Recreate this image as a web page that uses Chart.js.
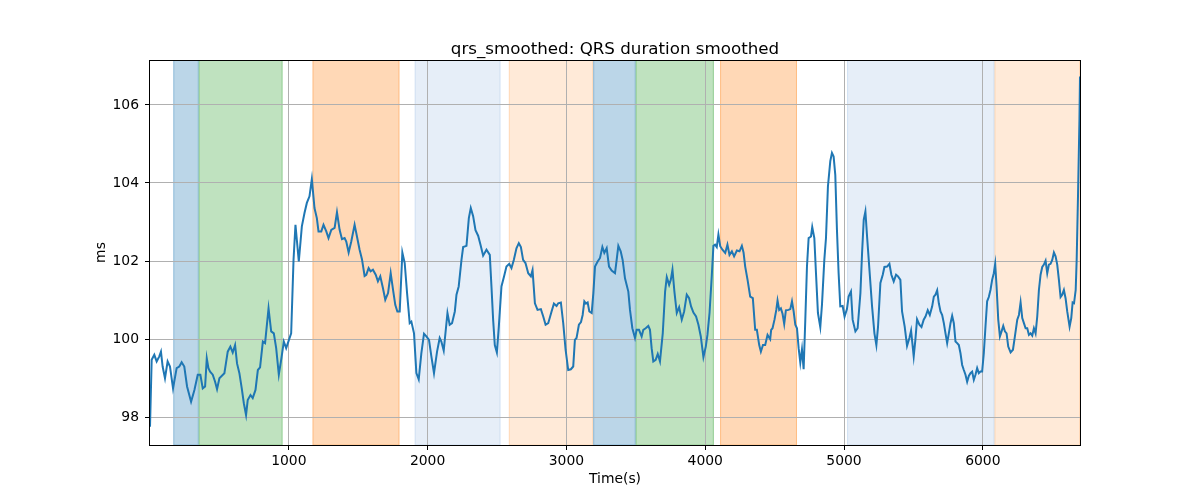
<!DOCTYPE html>
<html>
<head>
<meta charset="utf-8">
<script src="https://cdn.jsdelivr.net/npm/chart.js@4.4.1/dist/chart.umd.min.js"></script>
<style>
  html, body { margin: 0; padding: 0; background: #fff; }
  #wrap { width: 1200px; height: 500px; }
</style>
</head>
<body>
<div id="wrap"><canvas id="chart" width="1200" height="500"></canvas></div>
<script>
// time (s) and smoothed QRS duration (ms)
const times = [
  0, 12, 31, 48, 67, 79, 91, 108, 127, 144, 166, 192, 211, 228, 247, 267, 296, 320, 344, 363,
  380, 397, 409, 421, 433, 452, 469, 483, 500, 536, 560, 579, 596, 613, 627, 644, 661, 676, 692, 704,
  724, 740, 760, 777, 793, 813, 829, 854, 873, 892, 909, 928, 945, 964, 981, 1017, 1034, 1048, 1072, 1094,
  1113, 1130, 1149, 1166, 1185, 1202, 1214, 1234, 1250, 1270, 1286, 1306, 1330, 1347, 1366, 1383, 1402, 1414, 1431, 1450,
  1474, 1491, 1510, 1527, 1546, 1558, 1575, 1589, 1606, 1626, 1642, 1659, 1678, 1695, 1715, 1734, 1751, 1767, 1782, 1799,
  1818, 1835, 1852, 1871, 1883, 1902, 1919, 1936, 1955, 1974, 1991, 2010, 2027, 2046, 2068, 2087, 2099, 2116, 2143, 2159,
  2176, 2196, 2208, 2224, 2244, 2256, 2280, 2297, 2311, 2328, 2345, 2364, 2381, 2400, 2424, 2448, 2460, 2472, 2484, 2499,
  2513, 2532, 2551, 2568, 2588, 2604, 2621, 2640, 2657, 2672, 2688, 2705, 2725, 2744, 2756, 2773, 2792, 2816, 2833, 2850,
  2869, 2893, 2910, 2929, 2941, 2960, 2977, 2994, 3013, 3032, 3049, 3061, 3073, 3090, 3105, 3117, 3129, 3141, 3153, 3165,
  3182, 3194, 3206, 3225, 3242, 3259, 3273, 3290, 3307, 3326, 3350, 3362, 3374, 3391, 3405, 3422, 3446, 3458, 3475, 3494,
  3506, 3523, 3542, 3554, 3571, 3590, 3602, 3614, 3626, 3643, 3658, 3674, 3694, 3711, 3723, 3740, 3752, 3764, 3778, 3795,
  3812, 3831, 3848, 3867, 3884, 3898, 3915, 3934, 3951, 3968, 3987, 4004, 4016, 4031, 4047, 4059, 4071, 4083, 4095, 4108,
  4124, 4144, 4160, 4175, 4192, 4208, 4228, 4247, 4264, 4276, 4288, 4305, 4324, 4343, 4360, 4372, 4389, 4401, 4416, 4432,
  4449, 4468, 4475, 4485, 4499, 4512, 4521, 4533, 4545, 4557, 4569, 4581, 4600, 4613, 4625, 4637, 4649, 4661, 4673, 4685,
  4697, 4709, 4721, 4733, 4745, 4762, 4771, 4786, 4798, 4812, 4829, 4841, 4858, 4870, 4884, 4901, 4913, 4925, 4937, 4949,
  4961, 4973, 4990, 5004, 5021, 5033, 5050, 5062, 5082, 5098, 5118, 5130, 5142, 5154, 5166, 5183, 5202, 5219, 5233, 5245,
  5262, 5279, 5291, 5310, 5327, 5341, 5358, 5375, 5389, 5406, 5418, 5437, 5454, 5471, 5483, 5502, 5514, 5526, 5543, 5558,
  5574, 5587, 5603, 5618, 5635, 5647, 5659, 5671, 5683, 5695, 5707, 5719, 5731, 5743, 5755, 5767, 5779, 5791, 5803, 5815,
  5827, 5839, 5851, 5863, 5875, 5887, 5899, 5911, 5923, 5935, 5947, 5959, 5971, 5983, 5995, 6007, 6019, 6031, 6043, 6055,
  6067, 6079, 6089, 6099, 6111, 6123, 6135, 6147, 6159, 6171, 6183, 6200, 6217, 6231, 6248, 6260, 6272, 6284, 6296, 6308,
  6320, 6332, 6344, 6356, 6368, 6380, 6392, 6404, 6416, 6428, 6440, 6452, 6464, 6476, 6488, 6500, 6512, 6524, 6536, 6548,
  6560, 6572, 6584, 6596, 6608, 6625, 6637, 6647, 6657, 6669, 6676, 6686, 6696, 6700
];
const qrs = [
  97.76, 99.47, 99.60, 99.43, 99.56, 99.68, 99.30, 99.00, 99.43, 99.30, 98.74, 99.26, 99.30, 99.41, 99.30, 98.79, 98.40, 98.70, 99.09, 99.09,
  98.74, 98.79, 99.51, 99.26, 99.17, 99.09, 98.91, 98.72, 99.00, 99.13, 99.68, 99.81, 99.66, 99.85, 99.38, 99.13, 98.74, 98.36, 98.06, 98.44,
  98.57, 98.49, 98.70, 99.21, 99.28, 99.94, 99.90, 100.79, 100.20, 100.15, 99.77, 99.09, 99.47, 99.94, 99.77, 100.15, 102.03, 102.93, 101.99, 102.89,
  103.23, 103.49, 103.66, 104.10, 103.36, 103.10, 102.76, 102.76, 102.93, 102.76, 102.59, 102.80, 102.85, 103.25, 102.80, 102.56, 102.59, 102.50, 102.22, 102.50,
  102.93, 102.63, 102.29, 102.05, 101.62, 101.65, 101.82, 101.74, 101.78, 101.65, 101.48, 101.61, 101.31, 101.01, 101.18, 101.69, 101.26, 100.88, 100.71, 100.71,
  102.22, 101.95, 101.18, 100.41, 100.45, 100.15, 99.13, 98.97, 99.64, 100.14, 100.07, 99.98, 99.56, 99.13, 99.68, 100.03, 99.94, 99.71, 100.67, 100.37,
  100.41, 100.71, 101.14, 101.35, 102.03, 102.36, 102.39, 103.10, 103.36, 103.15, 102.79, 102.65, 102.42, 102.14, 102.29, 102.16, 101.35, 100.50, 99.85, 99.66,
  100.32, 101.35, 101.61, 101.86, 101.93, 101.82, 102.03, 102.33, 102.46, 102.36, 102.03, 101.95, 101.69, 101.61, 101.77, 100.92, 100.75, 100.77, 100.58, 100.37,
  100.41, 100.71, 100.91, 100.85, 100.92, 100.94, 100.41, 99.73, 99.21, 99.23, 99.30, 99.98, 100.03, 100.37, 100.44, 100.62, 100.97, 100.91, 100.94, 100.71,
  100.67, 101.18, 101.86, 101.99, 102.08, 102.36, 102.21, 102.33, 101.86, 101.76, 101.69, 102.03, 102.39, 102.25, 102.03, 101.56, 101.22, 100.75, 100.28, 100.03,
  100.24, 100.24, 100.07, 100.24, 100.28, 100.34, 100.24, 99.77, 99.43, 99.47, 99.62, 99.43, 100.15, 101.22, 101.59, 101.39, 101.52, 101.78, 101.22, 100.67,
  100.82, 100.50, 100.71, 101.14, 101.05, 100.84, 100.68, 100.58, 100.37, 100.07, 99.54, 99.81, 100.11, 100.67, 101.61, 102.39, 102.42, 102.36, 102.68, 102.38,
  102.29, 102.21, 102.42, 102.16, 102.25, 102.12, 102.27, 102.25, 102.39, 102.22, 101.86, 101.52, 101.09, 101.05, 100.24, 100.24, 99.85, 99.68, 99.85, 99.85,
  100.11, 100.00, 100.24, 100.28, 100.50, 100.75, 100.99, 100.75, 100.79, 100.65, 100.39, 100.74, 100.75, 100.77, 100.97, 100.71, 100.37, 100.28, 99.77, 99.40,
  99.74, 99.23, 100.50, 101.86, 102.59, 102.63, 102.87, 102.59, 101.69, 100.67, 100.31, 100.88, 102.03, 102.59, 103.91, 104.56, 104.77, 104.68, 104.21, 102.80,
  101.69, 100.84, 100.85, 100.58, 100.77, 101.09, 101.22, 100.50, 100.20, 100.28, 101.18, 102.21, 103.06, 103.27, 102.63, 101.78, 100.84, 100.15, 99.85, 100.32,
  101.44, 101.65, 101.85, 101.86, 101.93, 101.65, 101.48, 101.65, 101.61, 101.52, 100.71, 100.32, 99.83, 100.03, 100.22, 99.56, 99.98, 100.51, 100.37, 100.31,
  100.50, 100.58, 100.74, 100.62, 100.84, 101.09, 101.14, 101.25, 100.92, 100.71, 100.62, 100.41, 100.15, 99.90, 100.15, 100.41, 100.60, 100.41, 99.94, 99.90,
  99.85, 99.64, 99.34, 99.21, 99.09, 98.91, 99.06, 99.13, 99.17, 98.96, 99.09, 99.26, 99.13, 99.17, 99.17, 99.64, 100.32, 100.97, 101.08, 101.26,
  101.52, 101.69, 101.93, 101.35, 100.50, 100.07, 100.20, 100.34, 100.20, 100.15, 99.81, 99.66, 99.73, 100.07, 100.50, 100.62, 100.94, 100.54, 100.41, 100.28,
  100.28, 100.11, 100.15, 100.09, 100.28, 100.15, 100.58, 101.26, 101.65, 101.85, 101.91, 102.01, 101.69, 101.91, 101.93, 102.03, 102.22, 102.12, 101.91, 101.52,
  101.08, 101.14, 101.26, 101.05, 100.71, 100.32, 100.54, 100.94, 100.92, 101.26, 102.03, 103.74, 105.62, 106.73
];

// shaded segments (start, end, kind)
const segStart = [168, 351, 1171, 1907, 2585, 3193, 3499, 4107, 5022, 6084];
const segEnd   = [351, 955, 1797, 2525, 3193, 3499, 4062, 4661, 6084, 6700];
const segKind  = ['a', 'b', 'c', 'd', 'e', 'a', 'b', 'c', 'd', 'e'];

const xTicks = [1000, 2000, 3000, 4000, 5000, 6000];
const yTicks = [98, 100, 102, 104, 106];

const titleText = 'qrs_smoothed: QRS duration smoothed';

const segColors = {
  a: 'rgba(31,119,180,0.3)',
  b: 'rgba(44,160,44,0.3)',
  c: 'rgba(255,127,14,0.3)',
  d: 'rgba(31,100,190,0.11)',
  e: 'rgba(255,127,14,0.16)',
};

const spans = {
  id: 'spans',
  beforeDraw(chart) {
    const { ctx, chartArea: a, scales: { x } } = chart;
    ctx.save();
    ctx.beginPath();
    ctx.rect(a.left, a.top, a.right - a.left, a.bottom - a.top);
    ctx.clip();
    ctx.lineWidth = 1;
    for (let i = 0; i < segStart.length; i++) {
      const x0 = x.getPixelForValue(segStart[i]);
      const x1 = x.getPixelForValue(segEnd[i]);
      ctx.fillStyle = segColors[segKind[i]];
      ctx.strokeStyle = segColors[segKind[i]];
      ctx.fillRect(x0, a.top, x1 - x0, a.bottom - a.top);
      ctx.strokeRect(x0 + 0.5, a.top, x1 - x0 - 1, a.bottom - a.top);
    }
    ctx.restore();
  },
};

// axes frame + title centred over the plot area (matplotlib style)
const frame = {
  id: 'frame',
  afterDraw(chart) {
    const { ctx, chartArea: a } = chart;
    ctx.save();
    ctx.strokeStyle = '#000';
    ctx.lineWidth = 1;
    ctx.strokeRect(Math.round(a.left) - 0.5, Math.round(a.top) + 0.5, Math.round(a.right - a.left) + 1, Math.round(a.bottom - a.top));
    ctx.fillStyle = '#000';
    ctx.font = '16.7px "DejaVu Sans", sans-serif';
    ctx.textAlign = 'center';
    ctx.textBaseline = 'alphabetic';
    ctx.fillText(titleText, (a.left + a.right) / 2, a.top - 6);
    ctx.restore();
  },
};

Chart.defaults.font.family = '"DejaVu Sans", sans-serif';
Chart.defaults.color = '#000';

new Chart(document.getElementById('chart'), {
  type: 'line',
  data: {
    datasets: [{
      data: times.map((t, i) => ({ x: t, y: qrs[i] })),
      borderColor: '#1f77b4',
      borderWidth: 2,
      pointRadius: 0,
      tension: 0,
      fill: false,
    }],
  },
  options: {
    responsive: false,
    animation: false,
    events: [],
    layout: { padding: { left: 0, right: 120, top: 60, bottom: 0 } },
    plugins: {
      legend: { display: false },
      tooltip: { enabled: false },
      title: { display: false },
    },
    scales: {
      x: {
        type: 'linear',
        min: 0,
        max: 6700,
        afterBuildTicks: (s) => { s.ticks = xTicks.map((v) => ({ value: v })); },
        afterFit: (s) => { s.height = 55; },
        ticks: { font: { size: 13.9 }, padding: 3, maxRotation: 0, callback: (v) => String(v) },
        grid: { color: '#b0b0b0', lineWidth: 1, tickLength: 5, tickColor: '#000' },
        border: { display: false },
        title: { display: true, text: 'Time(s)', font: { size: 13.9 }, padding: { top: 0, bottom: 12 } },
      },
      y: {
        type: 'linear',
        min: 97.29,
        max: 107.15,
        afterBuildTicks: (s) => { s.ticks = yTicks.map((v) => ({ value: v })); },
        afterFit: (s) => { s.width = 150; },
        ticks: { font: { size: 13.9 }, padding: 6, callback: (v) => String(v) },
        grid: { color: '#b0b0b0', lineWidth: 1, tickLength: 5, tickColor: '#000' },
        border: { display: false },
        title: { display: true, text: 'ms', font: { size: 13.9 }, padding: { top: 93, bottom: 0 } },
      },
    },
  },
  plugins: [spans, frame],
});
</script>
</body>
</html>
